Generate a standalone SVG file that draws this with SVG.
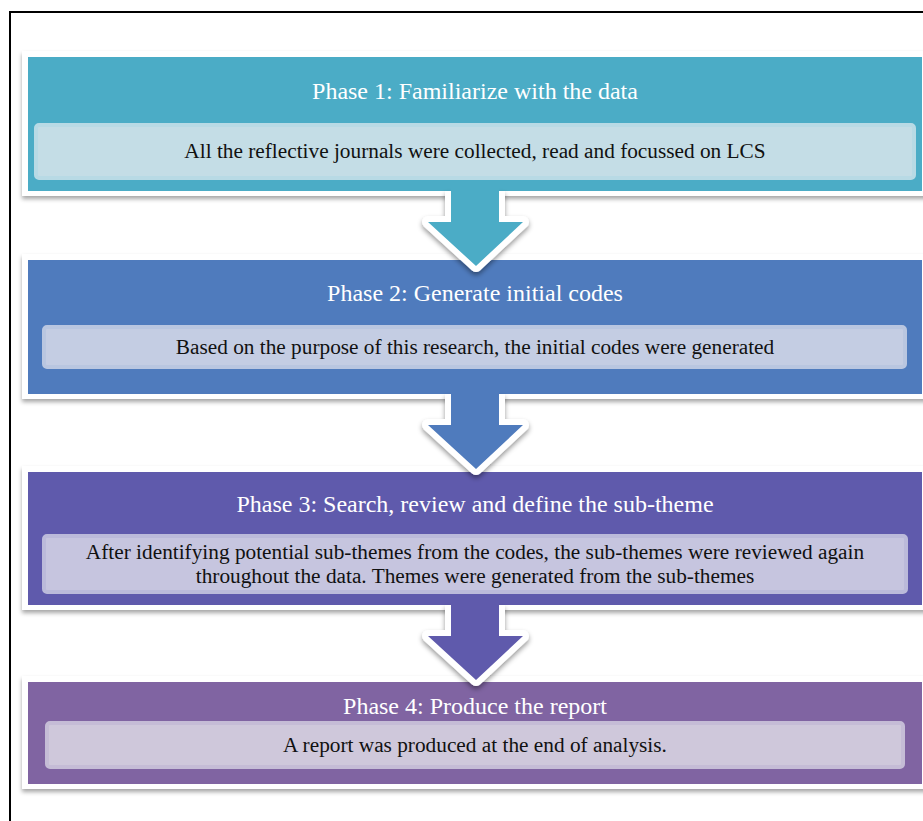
<svg xmlns="http://www.w3.org/2000/svg" width="923" height="821" viewBox="0 0 923 821">
<defs>
<filter id="sh" x="-5%" y="-10%" width="110%" height="130%">
<feDropShadow dx="0" dy="3" stdDeviation="2" flood-color="#000" flood-opacity="0.35"/>
</filter>
<filter id="ash" x="-20%" y="-20%" width="140%" height="150%">
<feDropShadow dx="0" dy="3" stdDeviation="2.5" flood-color="#000" flood-opacity="0.4"/>
</filter>
</defs>
<style>
.frame{fill:#fff;}
.title{font-family:"Liberation Serif","Times New Roman",serif;font-size:24px;fill:#fff;text-anchor:middle;}
.body{font-family:"Liberation Serif","Times New Roman",serif;font-size:21.3px;fill:#111;text-anchor:middle;}
.outline{fill:none;stroke:#fff;stroke-width:12;stroke-linejoin:round;stroke-linecap:butt;}
.inner{stroke-width:4;}
</style>
<rect x="0" y="0" width="923" height="821" fill="#fff"/>
<rect x="10" y="12" width="1000" height="1000" fill="none" stroke="#000" stroke-width="2"/>

<g id="phase1">
<rect class="frame" x="22" y="51" width="906" height="145" filter="url(#sh)"/>
<rect x="28" y="57" width="894" height="134" fill="#4BACC6"/>
<rect class="inner" x="36" y="125" width="878" height="53" rx="3" fill="#C4DDE6" stroke="#B8DAE5"/>
<text class="title" x="475" y="99">Phase 1: Familiarize with the data</text>
<text class="body" x="475" y="158">All the reflective journals were collected, read and focussed on LCS</text>
</g>

<g id="phase2">
<rect class="frame" x="22" y="254" width="906" height="145" filter="url(#sh)"/>
<rect x="28" y="260" width="894" height="134" fill="#4F7BBD"/>
<rect class="inner" x="44" y="327" width="861" height="40" rx="3" fill="#C4CDE3" stroke="#B9C6E0"/>
<text class="title" x="475" y="301">Phase 2: Generate initial codes</text>
<text class="body" x="475" y="354">Based on the purpose of this research, the initial codes were generated</text>
</g>

<g id="phase3">
<rect class="frame" x="22" y="466" width="906" height="144" filter="url(#sh)"/>
<rect x="28" y="472" width="894" height="133" fill="#5F5AAC"/>
<rect class="inner" x="44" y="536" width="862" height="56" rx="3" fill="#C6C5DF" stroke="#BBBADA"/>
<text class="title" x="475" y="512">Phase 3: Search, review and define the sub-theme</text>
<text class="body" x="475" y="559">After identifying potential sub-themes from the codes, the sub-themes were reviewed again</text>
<text class="body" x="475" y="583">throughout the data. Themes were generated from the sub-themes</text>
</g>

<g id="phase4">
<rect class="frame" x="22" y="676" width="906" height="113" filter="url(#sh)"/>
<rect x="28" y="682" width="894" height="102" fill="#8064A2"/>
<rect class="inner" x="47" y="723" width="856" height="44" rx="3" fill="#CFC8DB" stroke="#C5BCD6"/>
<text class="title" x="475" y="714">Phase 4: Produce the report</text>
<text class="body" x="475" y="752">A report was produced at the end of analysis.</text>
</g>

<g id="connectors">
<g id="arrow1">
<path class="outline" filter="url(#ash)" d="M451,191 V222 H428 L476,266 L523,222 H499 V191"/>
<path d="M451,188 V222 H428 L476,266 L523,222 H499 V188 Z" fill="#4BACC6"/>
</g>
<g id="arrow2">
<path class="outline" filter="url(#ash)" d="M451,394 V425 H428 L476,469 L523,425 H499 V394"/>
<path d="M451,391 V425 H428 L476,469 L523,425 H499 V391 Z" fill="#4F7BBD"/>
</g>
<g id="arrow3">
<path class="outline" filter="url(#ash)" d="M451,605 V636 H428 L476,680 L523,636 H499 V605"/>
<path d="M451,602 V636 H428 L476,680 L523,636 H499 V602 Z" fill="#5F5AAC"/>
</g>
</g>
</svg>
